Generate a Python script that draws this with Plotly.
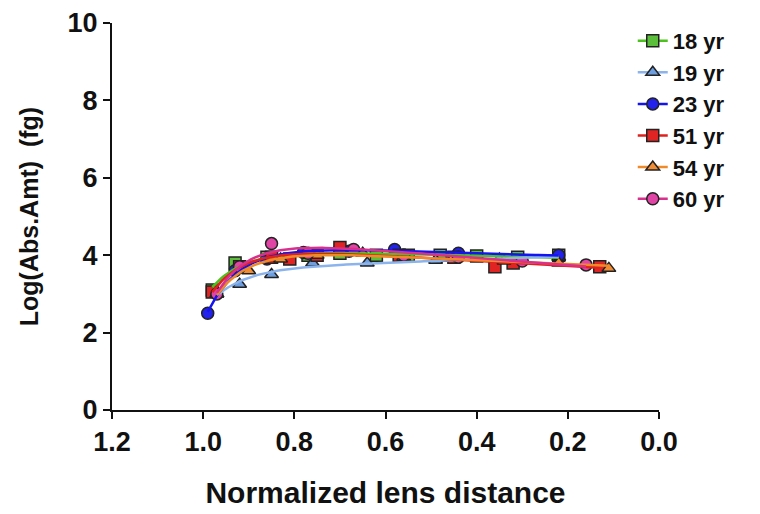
import numpy as np
import plotly.graph_objects as go

series_names = ["18 yr", "19 yr", "23 yr", "51 yr", "54 yr", "60 yr"]
x18 = [0.98, 0.93, 0.86, 0.77, 0.70, 0.62, 0.55, 0.48, 0.40, 0.31, 0.22]
y18 = [3.1, 3.8, 3.95, 4.0, 4.05, 4.0, 4.0, 4.0, 3.98, 3.95, 4.0]
x19 = [0.97, 0.92, 0.85, 0.76, 0.64, 0.49, 0.35, 0.22]
y19 = [3.0, 3.25, 3.5, 3.8, 3.8, 3.87, 3.9, 3.95]
x23 = [0.99, 0.93, 0.86, 0.78, 0.68, 0.58, 0.44, 0.22]
y23 = [2.5, 3.6, 3.9, 4.07, 4.1, 4.15, 4.05, 4.0]
x51 = [0.98, 0.92, 0.85, 0.81, 0.75, 0.70, 0.57, 0.45, 0.36, 0.32, 0.13]
y51 = [3.05, 3.7, 3.95, 3.9, 4.0, 4.2, 4.0, 3.95, 3.7, 3.8, 3.7]
x54 = [0.97, 0.90, 0.83, 0.75, 0.65, 0.56, 0.45, 0.34, 0.22, 0.11]
y54 = [3.0, 3.6, 3.9, 4.0, 4.05, 3.95, 3.95, 3.85, 3.8, 3.66]
x60 = [0.97, 0.92, 0.85, 0.77, 0.67, 0.56, 0.44, 0.30, 0.16]
y60 = [3.0, 3.7, 4.3, 4.05, 4.15, 4.0, 3.95, 3.85, 3.75]

x_ticks = [1.2, 1.0, 0.8, 0.6, 0.4, 0.2, 0.0]
x_tick_labels = ["1.2", "1.0", "0.8", "0.6", "0.4", "0.2", "0.0"]
y_ticks = [0, 2, 4, 6, 8, 10]
y_tick_labels = ["0", "2", "4", "6", "8", "10"]

xs = [x18, x19, x23, x51, x54, x60]
ys = [y18, y19, y23, y51, y54, y60]
line_colors = ["#4cc31c", "#8cb4ec", "#1414f0", "#e0201c", "#f08a28", "#d8308c"]
fill_colors = ["#5cbf3c", "#6c9ee0", "#2222ec", "#e02424", "#f08c34", "#e044a4"]
symbols = ["square", "triangle-up", "circle", "square", "triangle-up", "circle"]

fig = go.Figure()

def fit_curve(x, y, k=14.0):
    x = np.array(x); y = np.array(y)
    x0 = x.max()
    d = x0 - x
    A = np.vstack([np.ones_like(d), np.exp(-k * d), d]).T
    p, *_ = np.linalg.lstsq(A, y, rcond=None)
    xx = np.linspace(x0, x.min(), 120)
    dd = x0 - xx
    return xx, p[0] + p[1] * np.exp(-k * dd) + p[2] * dd

for name, x, y, lc, fc, sym in zip(series_names, xs, ys, line_colors, fill_colors, symbols):
    fig.add_trace(go.Scatter(x=x, y=y, mode="markers", showlegend=False,
                             marker=dict(symbol=sym, size=12, color=fc,
                                         line=dict(color="#222222", width=1.5))))
for name, x, y, lc, fc, sym in zip(series_names, xs, ys, line_colors, fill_colors, symbols):
    xx, yy = fit_curve(x, y)
    fig.add_trace(go.Scatter(x=xx, y=yy, mode="lines", showlegend=False,
                             line=dict(color=lc, width=2.5)))
for name, x, y, lc, fc, sym in zip(series_names, xs, ys, line_colors, fill_colors, symbols):
    fig.add_trace(go.Scatter(x=[None], y=[None], mode="lines+markers", name="<b>" + name + "</b>",
                             line=dict(color=lc, width=2.5),
                             marker=dict(symbol=sym, size=12, color=fc,
                                         line=dict(color="#222222", width=1.5))))

font_family = "Liberation Sans, Arial, sans-serif"
fig.update_layout(
    width=760, height=514,
    margin=dict(l=104, r=109, t=15, b=112),
    plot_bgcolor="white", paper_bgcolor="white",
    font=dict(family=font_family, size=22, color="#111111"),
    xaxis=dict(range=[1.2, 0.0], tickvals=x_ticks,
               ticktext=["<b>%s</b>" % t for t in x_tick_labels],
               tickfont=dict(size=27),
               showline=True, linecolor="#111111", linewidth=2, ticks="outside",
               ticklen=7, tickwidth=2, tickcolor="#111111", showgrid=False, zeroline=False,
               automargin=False,
               title=dict(text="<b>Normalized lens distance</b>", standoff=26,
                          font=dict(size=30))),
    yaxis=dict(range=[0, 10], tickvals=y_ticks,
               ticktext=["<b>%s</b>" % t for t in y_tick_labels],
               tickfont=dict(size=27),
               showline=True, linecolor="#111111", linewidth=2, ticks="outside",
               ticklen=7, tickwidth=2, tickcolor="#111111", showgrid=False, zeroline=False,
               automargin=False,
               title=dict(text="<b>Log(Abs.Amt)  (fg)</b>", standoff=22,
                          font=dict(size=25))),
    legend=dict(x=0.952, y=1.008, xanchor="left", yanchor="top",
                font=dict(size=22, family=font_family), bgcolor="rgba(0,0,0,0)",
                itemwidth=30, tracegroupgap=0),
)

fig.write_html("out.html")
